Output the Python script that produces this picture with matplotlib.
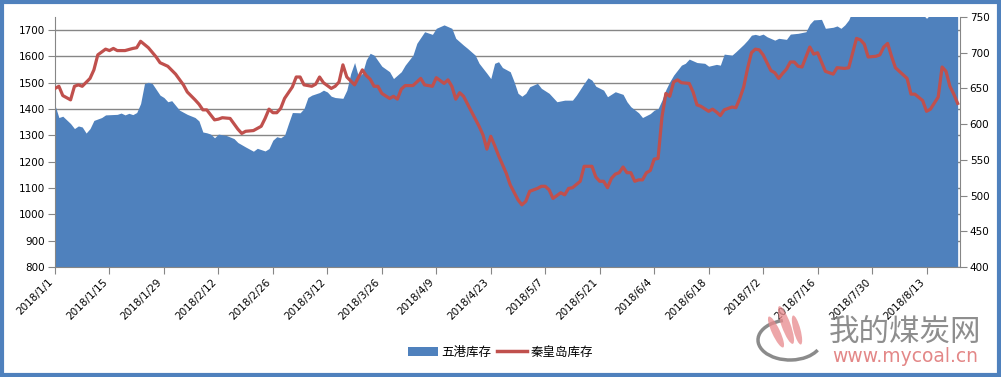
import pandas as pd
import matplotlib
matplotlib.use('Agg')
from matplotlib import pyplot as plt
import matplotlib.transforms as mtransforms
from matplotlib.patches import Patch, Rectangle, Arc, Ellipse
from matplotlib.lines import Line2D

plt.rcParams['font.family'] = ['DejaVu Sans', 'Noto Sans CJK SC']

# 五港库存 (left axis)
wg_dates = ['1/1', '1/2', '1/3', '1/5', '1/6', '1/7', '1/8', '1/9', '1/10', '1/11',
            '1/13', '1/14', '1/17', '1/18', '1/19', '1/20', '1/21', '1/22', '1/23', '1/24',
            '1/25', '1/26', '1/28', '1/29', '1/30', '1/31', '2/2', '2/4', '2/6', '2/7',
            '2/8', '2/9', '2/10', '2/11', '2/12', '2/14', '2/16', '2/17', '2/19', '2/21',
            '2/22', '2/24', '2/25', '2/26', '2/27', '2/28', '3/1', '3/2', '3/3', '3/5',
            '3/6', '3/7', '3/8', '3/10', '3/11', '3/12', '3/13', '3/14', '3/16', '3/17',
            '3/18', '3/19', '3/20', '3/21', '3/22', '3/23', '3/24', '3/26', '3/28', '3/29',
            '3/31', '4/1', '4/3', '4/4', '4/6', '4/8', '4/9', '4/11', '4/13', '4/14',
            '4/16', '4/17', '4/19', '4/20', '4/22', '4/23', '4/24', '4/25', '4/26', '4/28',
            '4/29', '4/30', '5/1', '5/2', '5/3', '5/5', '5/6', '5/8', '5/9', '5/10',
            '5/12', '5/14', '5/15', '5/17', '5/18', '5/19', '5/20', '5/22', '5/23', '5/25',
            '5/27', '5/28', '5/29', '5/31', '6/1', '6/3', '6/4', '6/5', '6/6', '6/7',
            '6/8', '6/9', '6/11', '6/12', '6/13', '6/15', '6/17', '6/18', '6/20', '6/21',
            '6/22', '6/24', '6/25', '6/27', '6/28', '6/29', '6/30', '7/1', '7/2', '7/3',
            '7/5', '7/6', '7/8', '7/9', '7/11', '7/13', '7/14', '7/15', '7/17', '7/18',
            '7/20', '7/21', '7/22', '7/23', '7/24', '7/25', '7/30', '8/5', '8/11', '8/12',
            '8/13', '8/14', '8/21']
wg_vals = [1415, 1368, 1373, 1345, 1326, 1336, 1332, 1309, 1326, 1357,
           1368, 1378, 1380, 1385, 1378, 1384, 1379, 1387, 1421, 1497,
           1502, 1497, 1453, 1444, 1428, 1432, 1396, 1380, 1368, 1355,
           1313, 1310, 1305, 1291, 1305, 1300, 1288, 1273, 1256, 1240,
           1251, 1241, 1250, 1282, 1295, 1291, 1301, 1345, 1387, 1386,
           1402, 1444, 1453, 1463, 1472, 1465, 1449, 1444, 1441, 1472,
           1535, 1577, 1523, 1536, 1587, 1612, 1605, 1563, 1542, 1516,
           1542, 1567, 1605, 1650, 1694, 1684, 1707, 1720, 1707, 1669,
           1643, 1631, 1605, 1574, 1536, 1516, 1574, 1580, 1558, 1542,
           1504, 1460, 1449, 1460, 1485, 1498, 1479, 1460, 1444, 1428,
           1434, 1434, 1453, 1498, 1519, 1510, 1487, 1472, 1447, 1466,
           1456, 1428, 1409, 1386, 1368, 1383, 1396, 1402, 1434, 1474,
           1504, 1529, 1567, 1574, 1590, 1577, 1574, 1563, 1570, 1567,
           1609, 1605, 1618, 1646, 1662, 1681, 1684, 1680, 1685, 1675,
           1662, 1669, 1665, 1685, 1688, 1694, 1723, 1739, 1741, 1707,
           1711, 1716, 1707, 1720, 1739, 1775, 1790, 1780, 1770, 1760,
           1745, 1760, 1780]

# 秦皇岛库存 (right axis)
qhd_dates = ['1/1', '1/2', '1/3', '1/5', '1/6', '1/7', '1/8', '1/10', '1/11', '1/12',
             '1/14', '1/15', '1/16', '1/17', '1/19', '1/21', '1/22', '1/23', '1/25', '1/27',
             '1/28', '1/30', '2/1', '2/3', '2/4', '2/6', '2/7', '2/8', '2/9', '2/11',
             '2/12', '2/13', '2/15', '2/17', '2/18', '2/19', '2/21', '2/23', '2/24', '2/25',
             '2/26', '2/27', '2/28', '3/1', '3/3', '3/4', '3/5', '3/6', '3/8', '3/9',
             '3/10', '3/11', '3/13', '3/14', '3/15', '3/16', '3/17', '3/19', '3/21', '3/22',
             '3/23', '3/24', '3/25', '3/26', '3/28', '3/29', '3/30', '3/31', '4/1', '4/3',
             '4/4', '4/5', '4/6', '4/8', '4/9', '4/11', '4/12', '4/13', '4/14', '4/15',
             '4/16', '4/18', '4/20', '4/21', '4/22', '4/23', '4/24', '4/25', '4/27', '4/28',
             '4/30', '5/1', '5/2', '5/3', '5/5', '5/6', '5/7', '5/8', '5/9', '5/10',
             '5/11', '5/12', '5/13', '5/14', '5/16', '5/17', '5/19', '5/20', '5/21', '5/22',
             '5/23', '5/24', '5/25', '5/26', '5/27', '5/28', '5/29', '5/30', '5/31', '6/1',
             '6/2', '6/3', '6/4', '6/5', '6/6', '6/7', '6/8', '6/9', '6/10', '6/11',
             '6/13', '6/14', '6/15', '6/16', '6/18', '6/19', '6/20', '6/21', '6/22', '6/24',
             '6/25', '6/26', '6/27', '6/28', '6/29', '6/30', '7/1', '7/2', '7/3', '7/4',
             '7/5', '7/6', '7/7', '7/8', '7/9', '7/10', '7/11', '7/12', '7/14', '7/15',
             '7/16', '7/18', '7/20', '7/21', '7/23', '7/24', '7/26', '7/27', '7/28', '7/29',
             '7/31', '8/1', '8/2', '8/3', '8/4', '8/5', '8/8', '8/9', '8/10', '8/12',
             '8/13', '8/14', '8/16', '8/17', '8/18', '8/19', '8/20', '8/21']
qhd_vals = [650, 653, 640, 634, 653, 655, 653, 664, 676, 697,
            705, 703, 706, 703, 703, 706, 707, 716, 707, 694,
            686, 681, 670, 655, 645, 634, 628, 620, 620, 606,
            607, 609, 608, 593, 587, 590, 591, 597, 608, 621,
            616, 616, 622, 636, 652, 666, 666, 655, 653, 656,
            666, 658, 650, 653, 659, 683, 666, 655, 676, 668,
            663, 653, 653, 643, 636, 639, 635, 649, 654, 654,
            659, 664, 655, 653, 665, 657, 662, 653, 635, 644,
            639, 618, 597, 585, 565, 583, 570, 556, 531, 515,
            494, 487, 492, 506, 510, 513, 513, 508, 496, 500,
            504, 501, 510, 511, 520, 541, 541, 526, 520, 520,
            511, 524, 530, 532, 540, 532, 532, 520, 522, 522,
            532, 535, 551, 552, 610, 643, 639, 659, 662, 658,
            657, 645, 627, 625, 618, 621, 617, 612, 620, 624,
            623, 636, 652, 678, 700, 705, 704, 697, 686, 675,
            672, 664, 671, 677, 687, 687, 681, 680, 708, 698,
            700, 674, 670, 679, 678, 679, 720, 718, 712, 694,
            695, 697, 708, 713, 695, 679, 664, 642, 642, 633,
            618, 621, 638, 680, 674, 653, 642, 629]

wg_x = pd.to_datetime(['2018/' + d for d in wg_dates])
qhd_x = pd.to_datetime(['2018/' + d for d in qhd_dates])

blue = '#4F81BD'
red = '#C0504D'
gray = '#868686'

fig = plt.figure(figsize=(10.01, 3.77), dpi=100)
ax = fig.add_axes([55/1001, 110/377, 905/1001, 250/377])
ax2 = ax.twinx()

#area for 五港库存
ax.fill_between(wg_x, wg_vals, 800, color=blue, linewidth=0, zorder=2)
ax.set_ylim(800, 1750)
ax.set_yticks(range(800, 1701, 100))
ax.yaxis.grid(True, color=gray, linewidth=1)
ax.set_axisbelow(True)

#line for 秦皇岛库存
ax2.plot(qhd_x, qhd_vals, color=red, linewidth=2.3)
ax2.set_ylim(400, 750)
ax2.set_yticks(range(400, 751, 50))

start = pd.Timestamp('2018-01-01')
ax.set_xlim(start, start + pd.Timedelta(days=232.6))
ticks = pd.date_range('2018-01-01', '2018-08-21', freq='14D')
ax.set_xticks(ticks)
ax.set_xticklabels(['%d/%d/%d' % (t.year, t.month, t.day) for t in ticks],
                   rotation=45, ha='right')
offset = mtransforms.ScaledTranslation(7/100, 0, fig.dpi_scale_trans)
for lbl in ax.get_xticklabels():
    lbl.set_transform(lbl.get_transform() + offset)

for a in (ax, ax2):
    a.spines['top'].set_visible(False)
    for s in a.spines.values():
        s.set_color(gray)
    a.tick_params(direction='out', length=5, color=gray, labelsize=7.5, pad=2)
ax.spines['right'].set_visible(False)
ax2.spines['left'].set_visible(False)
ax2.spines['bottom'].set_visible(False)

#legend
handles = [Patch(facecolor=blue, edgecolor='none'), Line2D([0], [0], color=red, lw=2.5)]
fig.legend(handles, ['五港库存', '秦皇岛库存'], loc='center', bbox_to_anchor=(0.5, 1 - 352/377),
           ncol=2, frameon=False, fontsize=9, handlelength=2.4, handleheight=0.7,
           handletextpad=0.3, columnspacing=0.4)

#watermark (logo + site name)
def px(x, y):
    return (x/1001, 1 - y/377)

logo = fig.add_axes([0, 0, 1, 1], facecolor='none')
logo.set_xlim(0, 1001)
logo.set_ylim(377, 0)
logo.axis('off')
logo.add_patch(Arc((790, 340), 64, 40, theta1=20, theta2=250, color='#777777',
                   linewidth=2.5, alpha=0.85))
for cx, cy, w, h, ang in [(776, 332, 8, 34, -25), (786, 325, 9, 40, -20), (797, 330, 7, 30, -15)]:
    logo.add_patch(Ellipse((cx, cy), w, h, angle=ang, color='#e8898c', alpha=0.75, linewidth=0))
fig.text(*px(905, 332), '我的煤炭网', fontsize=22, color='#7a7a7a', alpha=0.85,
         ha='center', va='center')
fig.text(*px(905, 356), 'www.mycoal.cn', fontsize=13.5, color='#e07a7a', alpha=0.9,
         ha='center', va='center')

#outer frame
fig.patches.append(Rectangle((0.002, 0.006), 0.996, 0.988, transform=fig.transFigure,
                             fill=False, edgecolor=blue, linewidth=3))

plt.savefig('out.png', dpi=100)
